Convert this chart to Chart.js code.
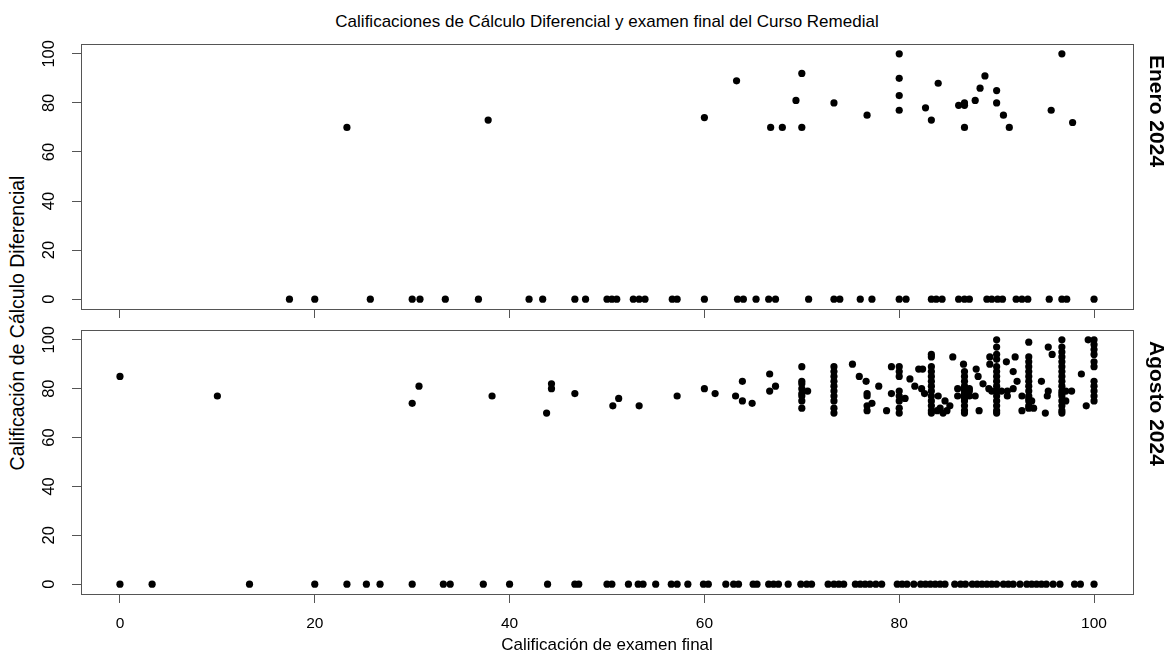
<!DOCTYPE html>
<html>
<head>
<meta charset="utf-8">
<script src="https://cdn.jsdelivr.net/npm/chart.js@4.4.1/dist/chart.umd.min.js"></script>
<style>
  body { margin: 0; background: #fff; }
  #wrap { position: relative; width: 1169px; height: 654px; overflow: hidden; font-family: "Liberation Sans", Arial, sans-serif; color: #000; }
  canvas { position: absolute; left: 0; }
  #titulo { position: absolute; left: 81px; width: 1052px; top: 12px; text-align: center; font-size: 17px; white-space: nowrap; }
  #ytitulo { position: absolute; left: 17px; top: 323px; transform: translate(-50%, -50%) rotate(-90deg); font-size: 19.5px; white-space: nowrap; }
</style>
</head>
<body>
<div id="wrap">
  <div id="titulo">Calificaciones de Cálculo Diferencial y examen final del Curso Remedial</div>
  <div id="ytitulo">Calificación de Cálculo Diferencial</div>
  <canvas id="enero" width="1169" height="325" style="top:0px"></canvas>
  <canvas id="agosto" width="1169" height="329" style="top:325px"></canvas>
</div>
<script>
const xTicks = [0, 20, 40, 60, 80, 100];
const yTicks = [0, 20, 40, 60, 80, 100];

// Enero 2024: alumnos con calificacion de calculo distinta de cero
const eneroExamen = [23.3, 37.8, 60, 63.3, 66.8, 68, 69.4, 70, 70, 73.3, 76.7, 80, 80, 80, 80,
  82.7, 83.3, 84, 86.1, 86.7, 86.7, 86.7, 87.8, 88.3, 88.8, 90, 90, 90.7, 91.3, 95.6, 96.7, 97.8];
const eneroCalculo = [70, 73, 74, 89, 70, 70, 81, 92, 70, 80, 75, 100, 90, 83, 77,
  78, 73, 88, 79, 80, 79, 70, 81, 86, 91, 85, 80, 75, 70, 77, 100, 72];
// Enero 2024: calificacion de calculo = 0
const eneroCeroExamen = [17.4, 20, 25.7, 30, 30.8, 33.4, 36.8, 42, 43.4, 46.7, 47.8, 50, 50.5, 51,
  52.7, 53.3, 53.9, 56.7, 57.2, 60, 63.4, 64, 65.3, 66.6, 67.3, 70.7, 73.3, 73.9, 76, 77.2, 80, 80.7,
  83.3, 83.8, 84.4, 86.1, 86.7, 87.2, 89, 89.5, 90.1, 90.6, 92, 92.6, 93.2, 95.4, 96.7, 97.2, 100];

// Agosto 2024
const agostoExamen = [0, 10, 30, 30.7, 38.2, 43.8, 44.3, 44.3, 46.7, 50.6, 51.2, 53.3, 57.2, 60, 61.1,
  63.2, 63.9, 63.9, 64.9, 66.7, 66.7, 67.3,
  70, 70, 70, 70, 70, 70, 70, 70, 70.6,
  73.3, 73.3, 73.3, 73.3, 73.3, 73.3, 73.3, 73.3, 73.3, 73.3,
  75.2, 75.9, 76.6, 76.7, 76.7, 76.7, 76.7, 77.2, 77.9, 78.7, 79.2, 79.2,
  80, 80, 80, 80, 80, 80, 80, 80, 80.6,
  81.1, 81.6, 82, 82.4, 82.3, 82.6,
  83.3, 83.3, 83.3, 83.3, 83.3, 83.3, 83.3, 83.3, 83.3, 83.3, 83.3, 83.3, 83.3,
  83.9, 84.2, 84.5, 84.9, 85.2, 84.7, 84, 85.5, 86.6,
  86.7, 86.7, 86.7, 86.7, 86.7, 86.7, 86.7, 86.7, 86.7, 86.7, 86.7, 86.7, 86.7,
  86, 86, 87.2, 87.2, 87.2, 87.8, 87.9, 88.2, 88.1, 88.6, 89.2, 89.5, 89.3, 89.3,
  90, 90, 90, 90, 90, 90, 90, 90, 90, 90, 90, 90, 90, 90, 90,
  90.5, 91, 91.7, 91.9, 91.1, 91.1, 92.1, 91.7, 92.6, 92.6,
  93.3, 93.3, 93.3, 93.3, 93.3, 93.3, 93.3, 93.3, 93.3, 93.3, 93.3, 93.3, 93.3, 93.3,
  93.8, 93.6, 94.6, 95, 95.3, 95.7, 95.3, 95.2,
  96.7, 96.7, 96.7, 96.7, 96.7, 96.7, 96.7, 96.7, 96.7, 96.7, 96.7, 96.7, 96.7, 96.7, 96.7, 96.7, 96.7,
  97.1, 97.1, 97.7, 98.7, 99.2,
  100, 100, 100, 100, 100, 100, 100, 100, 100, 100, 100, 99.4];
const agostoCalculo = [85, 77, 74, 81, 77, 70, 82, 80, 78, 73, 76, 73, 77, 80, 78,
  77, 83, 75, 74, 86, 79, 81,
  89, 83, 82, 80, 78, 77, 75, 72, 79,
  89, 87, 85, 83, 81, 79, 77, 75, 72, 70,
  90, 85, 83, 78, 77, 73, 71, 74, 81, 71, 89, 78,
  89, 87, 85, 79, 77, 75, 72, 70, 76,
  84, 81, 88, 88, 80, 78,
  94, 93, 89, 87, 85, 83, 81, 79, 77, 75, 73, 71, 70,
  71, 72, 70, 71, 73, 75, 77, 93, 90,
  87, 85, 83, 81, 80, 79, 78, 77, 76, 75, 73, 71, 70,
  80, 77, 80, 79, 77, 77, 88, 71, 85, 82, 80, 79, 93, 90,
  100, 97, 94, 92, 89, 87, 85, 83, 81, 79, 77, 75, 73, 71, 70,
  79, 91, 87, 93, 79, 77, 83, 80, 77, 71,
  99, 93, 91, 89, 87, 85, 83, 81, 79, 77, 76, 75, 73, 72,
  72, 75, 83, 70, 97, 94, 79, 77,
  100, 97, 95, 93, 91, 89, 87, 85, 83, 81, 79, 78, 77, 75, 73, 71, 70,
  79, 75, 79, 86, 73,
  100, 98, 96, 94, 91, 89, 83, 81, 79, 77, 75, 100];
const agostoCeroExamen = [0, 3.3, 13.3, 20, 23.3, 25.3, 26.7, 30, 33.2, 33.9, 37.3, 40, 43.9, 46.7, 47.1,
  50, 50.5, 52.2, 53.2, 53.7, 55, 56.6, 57.2, 58.3, 59.9, 60.4, 62.2, 63, 63.5, 65, 65.4, 66.6, 67.1,
  67.6, 68.6, 69.9, 70.5, 71, 72.7, 73.3, 73.8, 74.3, 75.5, 76, 76.5, 77, 77.6, 78.2, 79.8, 80.3, 80.8,
  81.5, 82.2, 82.7, 83.2, 83.7, 84.2, 84.7, 85.7, 86.3, 86.8, 87.5, 88, 88.5, 89, 89.5, 90, 90.7, 91.2,
  91.7, 92.4, 93.1, 93.6, 94.1, 94.6, 95.1, 95.8, 96.5, 98, 98.6, 100];

const FONT = '"Liberation Sans", Arial, sans-serif';
Chart.defaults.font.family = FONT;
Chart.defaults.color = '#000';

function puntos(xs, ys) {
  return xs.map((x, i) => ({ x: x, y: ys[i] }));
}
function ceros(xs) {
  return xs.map((x) => ({ x: x, y: 0 }));
}

// marco del panel (box() de R)
const panelBox = {
  id: 'panelBox',
  afterDatasetsDraw(chart) {
    const { ctx, chartArea: a } = chart;
    ctx.save();
    ctx.strokeStyle = '#555';
    ctx.lineWidth = 1;
    ctx.strokeRect(Math.round(a.left) + 0.5, Math.round(a.top) + 0.5,
      Math.round(a.right - a.left), Math.round(a.bottom - a.top));
    ctx.restore();
  }
};

// etiqueta del panel a la derecha
const stripLabel = {
  id: 'stripLabel',
  afterDraw(chart, args, opts) {
    const { ctx, chartArea: a } = chart;
    ctx.save();
    ctx.translate(a.right + 23, a.top + opts.offset);
    ctx.rotate(Math.PI / 2);
    ctx.font = 'bold 21px ' + FONT;
    ctx.fillStyle = '#000';
    ctx.textAlign = 'left';
    ctx.textBaseline = 'middle';
    ctx.fillText(opts.text, 0, 0);
    ctx.restore();
  }
};

function makePanel(id, data, etiqueta, topPad, xHeight, showX) {
  return new Chart(document.getElementById(id), {
    type: 'scatter',
    data: {
      datasets: [{
        data: data,
        backgroundColor: '#000',
        borderWidth: 0,
        pointRadius: 3.6,
        pointHoverRadius: 3.6,
      }],
    },
    plugins: [panelBox, stripLabel],
    options: {
      responsive: false,
      animation: false,
      devicePixelRatio: 1,
      layout: { padding: { left: 0, right: 36, top: topPad, bottom: 0 } },
      plugins: {
        legend: { display: false },
        tooltip: { enabled: false },
        stripLabel: { text: etiqueta, offset: 11 },
      },
      scales: {
        x: {
          type: 'linear',
          min: -4,
          max: 104,
          afterBuildTicks: (s) => { s.ticks = xTicks.map((v) => ({ value: v })); },
          afterFit: (s) => { s.height = xHeight; s.paddingLeft = 0; s.paddingRight = 0; },
          border: { display: false },
          grid: { drawOnChartArea: false, drawTicks: true, tickLength: 9, color: '#555' },
          ticks: { display: showX, font: { size: 15.5 }, padding: 11, maxRotation: 0 },
          title: {
            display: showX,
            text: 'Calificación de examen final',
            font: { size: 17, lineHeight: 1 },
            padding: { top: 0, bottom: 0 },
          },
        },
        y: {
          type: 'linear',
          min: -4,
          max: 104,
          afterBuildTicks: (s) => { s.ticks = yTicks.map((v) => ({ value: v })); },
          afterFit: (s) => { s.width = 81; s.paddingTop = 0; s.paddingBottom = 0; },
          border: { display: false },
          grid: { drawOnChartArea: false, drawTicks: true, tickLength: 9, color: '#555' },
          ticks: { font: { size: 16.5 }, padding: 9, minRotation: 90, maxRotation: 90, crossAlign: 'center' },
        },
      },
    },
  });
}

makePanel('enero', puntos(eneroExamen, eneroCalculo).concat(ceros(eneroCeroExamen)), 'Enero 2024', 44, 16, false);
makePanel('agosto', puntos(agostoExamen, agostoCalculo).concat(ceros(agostoCeroExamen)), 'Agosto 2024', 5, 60, true);
</script>
</body>
</html>
